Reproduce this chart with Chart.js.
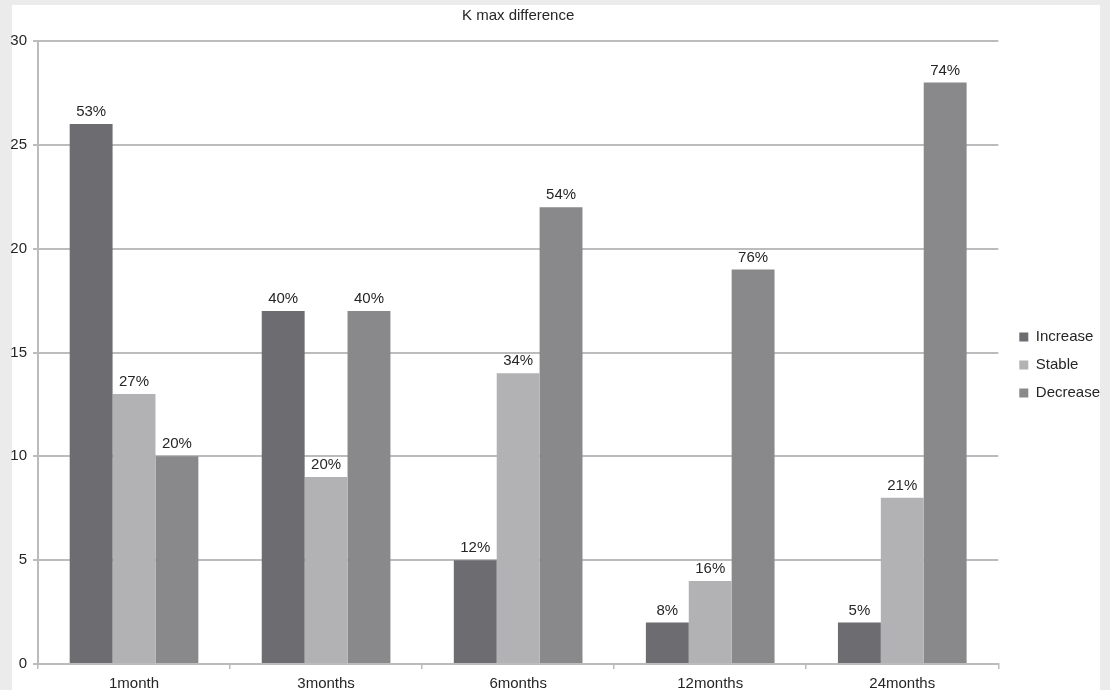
<!DOCTYPE html>
<html>
<head>
<meta charset="utf-8">
<script src="https://cdn.jsdelivr.net/npm/chart.js@4/dist/chart.umd.min.js"></script>
<style>
  html, body { margin: 0; padding: 0; background: #ebebeb; }
  #wrap { position: relative; width: 1110px; height: 690px; }
</style>
</head>
<body>
<div id="wrap"><canvas id="kmax" width="1110" height="690"></canvas></div>
<script>
const categories = ["1month", "3months", "6months", "12months", "24months"];
const increase = [26, 17, 5, 2, 2];
const stable = [13, 9, 14, 4, 8];
const decrease = [10, 17, 22, 19, 28];
const increasePct = ["53%", "40%", "12%", "8%", "5%"];
const stablePct = ["27%", "20%", "34%", "16%", "21%"];
const decreasePct = ["20%", "40%", "54%", "76%", "74%"];
const yTicks = [0, 5, 10, 15, 20, 25, 30];

const FONT = "'Liberation Sans', Arial, Helvetica, sans-serif";
const TEXT = "#262626";
const GRID = "#bcbcbc";

// white sheet behind the chart
const panel = {
  id: "panel",
  beforeDraw(chart) {
    const ctx = chart.ctx;
    ctx.save();
    ctx.fillStyle = "#ffffff";
    ctx.fillRect(12, 5, 1088, 685);
    ctx.restore();
  },
};

// nudge the legend block to the right and down a little
// (items are centred between top and bottom, so top moves them by half)
const legendShift = {
  id: "legendShift",
  afterLayout(chart) {
    chart.legend.left += 8;
    chart.legend.top += 40;
  },
};

// percentage labels above each bar
const barLabels = {
  id: "barLabels",
  afterDatasetsDraw(chart) {
    const ctx = chart.ctx;
    ctx.save();
    ctx.font = "15px " + FONT;
    ctx.fillStyle = TEXT;
    ctx.textAlign = "center";
    ctx.textBaseline = "middle";
    chart.data.datasets.forEach((ds, i) => {
      chart.getDatasetMeta(i).data.forEach((bar, j) => {
        ctx.fillText(ds.pct[j], bar.x, bar.y - 12);
      });
    });
    ctx.restore();
  },
};

new Chart(document.getElementById("kmax"), {
  type: "bar",
  data: {
    labels: categories,
    datasets: [
      { label: "Increase", data: increase, pct: increasePct, backgroundColor: "#6d6d71" },
      { label: "Stable", data: stable, pct: stablePct, backgroundColor: "#b2b2b4" },
      { label: "Decrease", data: decrease, pct: decreasePct, backgroundColor: "#89898b" },
    ],
  },
  options: {
    responsive: false,
    animation: false,
    events: [],
    datasets: {
      bar: { barPercentage: 1, categoryPercentage: 0.67, borderWidth: 0 },
    },
    layout: { padding: { left: 0, right: 8, top: 0, bottom: 0 } },
    plugins: {
      title: {
        display: true,
        fullSize: false,
        text: "K max difference",
        color: TEXT,
        font: { family: FONT, size: 15, weight: "normal" },
        padding: { top: 7, bottom: 16 },
      },
      legend: {
        position: "right",
        labels: {
          color: TEXT,
          font: { family: FONT, size: 15 },
          boxWidth: 9,
          boxHeight: 9,
          padding: 13,
        },
      },
      tooltip: { enabled: false },
    },
    scales: {
      x: {
        grid: {
          display: true,
          drawOnChartArea: false,
          offset: true,
          color: GRID,
          lineWidth: 1.5,
          tickLength: 5,
        },
        border: { color: GRID, width: 2 },
        ticks: { color: TEXT, font: { family: FONT, size: 15 }, padding: 6 },
        afterFit(scale) { scale.height = 26; },
      },
      y: {
        min: 0,
        max: 30,
        afterBuildTicks(scale) { scale.ticks = yTicks.map((v) => ({ value: v })); },
        grid: { color: GRID, lineWidth: 2, tickLength: 5 },
        border: { color: GRID, width: 2 },
        ticks: { color: TEXT, font: { family: FONT, size: 15 }, padding: 6 },
        afterFit(scale) { scale.width = 38; },
      },
    },
  },
  plugins: [panel, legendShift, barLabels],
});
</script>
</body>
</html>
